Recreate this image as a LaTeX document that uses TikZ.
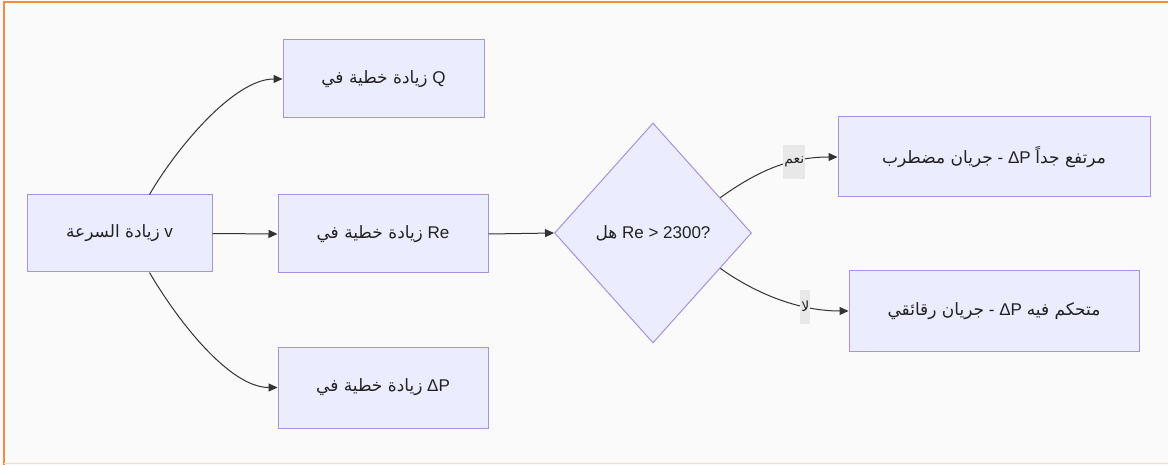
\documentclass[tikz,border=0pt]{standalone}
\usepackage{fontspec}
\setmainfont{Liberation Sans}
\newfontfamily\arabicfont[Script=Arabic]{DejaVu Sans}
\TeXXeTstate=1
\usetikzlibrary{arrows.meta,shapes.geometric,calc}
\definecolor{nodefill}{HTML}{ECECFF}
\definecolor{nodeline}{HTML}{A990E4}
\definecolor{edgecol}{HTML}{333333}
\definecolor{textcol}{HTML}{222222}
\definecolor{bgcol}{HTML}{FAFAFA}
\definecolor{framecol}{HTML}{F98A3A}
\definecolor{framefaint}{HTML}{FBD9BF}
\definecolor{lblbg}{HTML}{E8E8E8}
\newcommand{\artxt}[1]{{\arabicfont\beginR #1\endR}}
\begin{document}
\begin{tikzpicture}[x=1pt,y=-1pt,
  box/.style={draw=nodeline, fill=nodefill, line width=1pt, text=textcol,
    font=\fontsize{17}{20}\selectfont, inner sep=0pt},
  decision/.style={diamond, draw=nodeline, fill=nodefill, line width=1pt, text=textcol,
    font=\fontsize{17}{20}\selectfont, inner sep=0pt},
  edge/.style={draw=edgecol, line width=1pt, -{Triangle[length=9pt,width=8pt]}},
  elabel/.style={fill=lblbg, text=textcol, font=\fontsize{14}{16}\selectfont,
    inner xsep=1pt, inner ysep=0pt, minimum height=34pt}]
\useasboundingbox (0,0) rectangle (1168,465);
\fill[bgcol] (0,0) rectangle (1168,465);
\draw[framecol, line width=2pt] (3.5,465) -- (3.5,2.5) -- (1168,2.5);
\draw[framefaint, line width=1.5pt] (3.5,463.5) -- (1168,463.5);

\node[box, minimum width=185pt, minimum height=77pt] (A) at (119.5,233.5) {\artxt{زيادة السرعة} v};
\node[box, minimum width=201pt, minimum height=78pt] (Q) at (383.5,79) {\artxt{زيادة خطية في} Q};
\node[box, minimum width=210pt, minimum height=78pt] (R) at (383,234) {\artxt{زيادة خطية في} Re};
\node[box, minimum width=210pt, minimum height=81pt] (P) at (383,387.5) {\artxt{زيادة خطية في} ΔP};
\node[decision, minimum width=197pt, minimum height=220pt] (D) at (653,233) {\artxt{هل} Re > 2300?};
\node[box, minimum width=312pt, minimum height=80pt] (T) at (994,157) {\artxt{جريان مضطرب} - ΔP \artxt{مرتفع جداً}};
\node[box, minimum width=290pt, minimum height=80pt] (L) at (994,311) {\artxt{جريان رقائقي} - ΔP \artxt{متحكم فيه}};

\draw[edge] ([xshift=30pt]A.north) .. controls +(28,-48) and +(-48,0) .. (Q.west);
\draw[edge] (A.east) -- (R.west);
\draw[edge] ([xshift=30pt]A.south) .. controls +(28,48) and +(-48,0) .. (P.west);
\draw[edge] (R.east) -- (D.west);
\draw[edge] ($(D.north)!0.68!(D.east)$) .. controls +(35,-25) and +(-50,0) .. node[elabel, pos=0.68] {\artxt{نعم}} (T.west);
\draw[edge] ($(D.south)!0.68!(D.east)$) .. controls +(35,25) and +(-50,0) .. node[elabel, pos=0.7] {\artxt{لا}} (L.west);
\end{tikzpicture}
\end{document}
